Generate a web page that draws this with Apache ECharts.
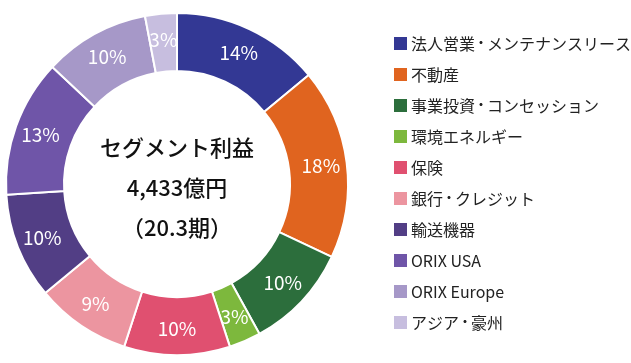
<!DOCTYPE html>
<html><head><meta charset="utf-8">
<script src="https://cdn.jsdelivr.net/npm/echarts@6/dist/echarts.min.js"></script>
<style>html,body{margin:0;padding:0;background:#fff}#c{width:631px;height:363px}</style>
</head><body><div id="c"></div>
<script>
const categories = ['法人営業・メンテナンスリース','不動産','事業投資・コンセッション','環境エネルギー','保険','銀行・クレジット','輸送機器','ORIX USA','ORIX Europe','アジア・豪州'];
const shares = [14, 18, 10, 3, 10, 9, 10, 13, 10, 3];
const colors = ['#333894','#E0641F','#2C6E3C','#7DB83D','#E05070','#EC95A0','#523E85','#6F55A8','#A698C8','#C7BEDF'];
const centerLines = ['セグメント利益','4,433億円','（20.3期）'];
const FONT = '"Noto Sans CJK JP","Noto Sans",sans-serif';

const chart = echarts.init(document.getElementById('c'), null, {renderer:'canvas'});
chart.setOption({
  animation:false,
  color: colors,
  legend:{
    orient:'vertical', left:392, top:35, padding:0,
    itemWidth:15, itemHeight:15, itemGap:14,
    icon:'rect',
    data: categories,
    formatter: n => n.replace('・','{d|・}'),
    textStyle:{fontFamily:FONT, fontSize:16, color:'#222', padding:[0,0,0,-2],
      rich:{d:{fontFamily:FONT, fontSize:12, fontWeight:'bold', color:'#222', verticalAlign:'middle', lineHeight:16}}}
  },
  graphic: centerLines.map((t,i)=>({
    type:'text',
    style:{text:t, x:177, y:148+i*40, align:'center', verticalAlign:'middle', font:'500 22px '+FONT, fill:'#111'}
  })),
  series:[{
    type:'pie', center:[177,184], radius:[113,171], startAngle:90, clockwise:true,
    avoidLabelOverlap:false,
    itemStyle:{borderColor:'#fff', borderWidth:2},
    label:{show:true, position:'inside', formatter:'{c}%', color:'#fff', fontFamily:FONT, fontSize:19},
    labelLine:{show:false},
    data: categories.map((n,i)=>({name:n, value:shares[i]}))
  }]
});
</script></body></html>
